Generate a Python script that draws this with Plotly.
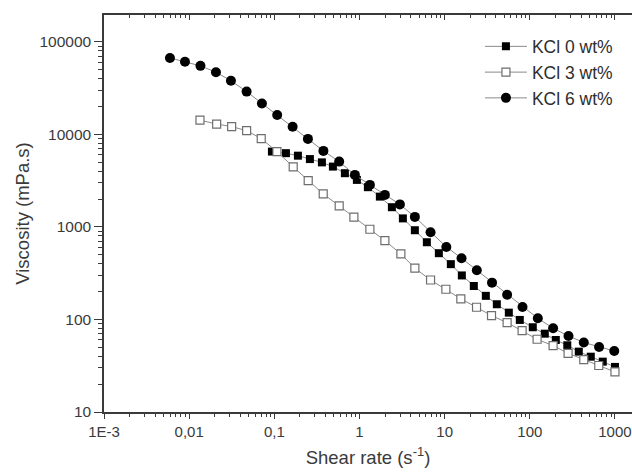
import plotly.graph_objects as go

# KCl 6 wt% (filled circles)
rate_6 = [0.00595, 0.00893, 0.01357, 0.02064, 0.03095, 0.04728, 0.07153, 0.1081, 0.164, 0.248,
          0.377, 0.5777, 0.8831, 1.325, 1.987, 2.981, 4.47, 6.831, 10.47, 15.79,
          23.87, 36.0, 54.15, 82.1, 124.2, 187.7, 284.6, 430.3, 650.8, 981.0]
visc_6 = [67000, 61000, 55000, 47000, 38000, 29000, 21600, 16200, 12100, 8940,
          6630, 5080, 3650, 2845, 2218, 1751, 1283, 876, 608, 459,
          340, 250, 185, 136.5, 103, 80.3, 66.3, 56.4, 50.4, 45.6]

# KCl 0 wt% (filled squares)
rate_0 = [0.0937, 0.1368, 0.1892, 0.2617, 0.362, 0.4873, 0.674, 0.932, 1.255, 1.735,
          2.401, 3.232, 4.47, 6.18, 8.55, 11.82, 15.92, 22.01, 30.45, 41.0,
          56.7, 76.3, 108.4, 150.0, 202.0, 275.5, 376.0, 520.0, 719.0, 1000.0]
visc_0 = [6520, 6265, 5886, 5408, 4982, 4487, 3806, 3222, 2687, 2126,
          1633, 1236, 921, 683, 520, 396, 299, 230, 180, 146,
          118.5, 98.8, 82.4, 70.2, 60.0, 52.6, 44.9, 39.6, 35.0, 30.7]

# KCl 3 wt% (open squares)
rate_3 = [0.01339, 0.02103, 0.03154, 0.04728, 0.07018, 0.1073, 0.1667, 0.25, 0.375, 0.5777,
          0.8597, 1.325, 1.987, 3.062, 4.47, 6.831, 10.33, 15.49, 23.68, 35.52,
          54.15, 81.2, 121.8, 187.7, 281.5, 430.3, 645.5, 1000.0]
visc_3 = [14240, 12930, 12140, 10965, 9005, 6518, 4453, 3158, 2274, 1687,
          1273, 944, 711, 511, 358, 267, 212, 167, 135.5, 110,
          92.4, 75.6, 61.1, 52.1, 43.1, 36.9, 31.8, 27.1]

x_ticks = [0.001, 0.01, 0.1, 1, 10, 100, 1000]
x_labels = ["1E-3", "0,01", "0,1", "1", "10", "100", "1000"]
y_ticks = [10, 100, 1000, 10000, 100000]
y_labels = ["10", "100", "1000", "10000", "100000"]

# minor tick positions (2..9 within each decade)
x_minor = [m * d for d in [0.001, 0.01, 0.1, 1, 10, 100, 1000] for m in range(2, 10)]
y_minor = [m * d for d in [10, 100, 1000, 10000, 100000] for m in range(2, 10)]

line_col = "#8a8a8a"
axis_col = "#3a3a3a"
font_fam = "Liberation Sans, Arial, sans-serif"

fig = go.Figure()
fig.add_trace(go.Scatter(x=rate_0, y=visc_0, mode="lines+markers", name="KCl 0 wt%",
                         line=dict(color=line_col, width=1),
                         marker=dict(symbol="square", size=8, color="black",
                                     line=dict(color="black", width=0))))
fig.add_trace(go.Scatter(x=rate_3, y=visc_3, mode="lines+markers", name="KCl 3 wt%",
                         line=dict(color=line_col, width=1),
                         marker=dict(symbol="square", size=8, color="white",
                                     line=dict(color="#6e6e6e", width=1.2))))
fig.add_trace(go.Scatter(x=rate_6, y=visc_6, mode="lines+markers", name="KCl 6 wt%",
                         line=dict(color=line_col, width=1),
                         marker=dict(symbol="circle", size=10, color="black",
                                     line=dict(color="black", width=0))))
# helper trace for the top (mirror) axis
fig.add_trace(go.Scatter(x=[x_ticks[0]], y=[y_ticks[0]], xaxis="x2", mode="markers",
                         marker=dict(opacity=0), showlegend=False, hoverinfo="skip"))

fig.update_layout(
    width=632, height=472,
    margin=dict(l=104, r=0, t=15, b=60),
    paper_bgcolor="white", plot_bgcolor="white",
    font=dict(family=font_fam, color=axis_col),
    showlegend=True,
    legend=dict(x=0.712, y=0.966, xanchor="left", yanchor="top",
                font=dict(size=17.5, color="#2e2e2e"), bgcolor="rgba(0,0,0,0)",
                itemwidth=42, tracegroupgap=0),
    xaxis=dict(type="log", range=[-3, 3.2], tickvals=x_ticks, ticktext=x_labels,
               ticks="outside", ticklen=5, tickwidth=1.2, tickcolor=axis_col,
               showline=True, linecolor=axis_col, linewidth=1.5,
               showgrid=False, zeroline=False, ticklabeloverflow="allow",
               minor=dict(tickmode="array", tickvals=x_minor, ticks="outside", ticklen=3,
                          tickcolor=axis_col, showgrid=False),
               tickfont=dict(size=15),
               title=dict(text="Shear rate (s<sup>-1</sup>)", font=dict(size=18.5), standoff=12)),
    xaxis2=dict(type="log", range=[-3, 3.2], overlaying="x", side="top",
                tickvals=x_ticks, showticklabels=False,
                ticks="inside", ticklen=5, tickwidth=1.2, tickcolor=axis_col,
                showline=True, linecolor=axis_col, linewidth=1.5,
                showgrid=False, zeroline=False,
                minor=dict(tickmode="array", tickvals=x_minor, ticks="inside", ticklen=3,
                           tickcolor=axis_col, showgrid=False)),
    yaxis=dict(type="log", range=[1, 5.29], tickvals=y_ticks, ticktext=y_labels,
               ticks="outside", ticklen=8, tickwidth=1.2, tickcolor=axis_col,
               showline=True, linecolor=axis_col, linewidth=1.5,
               showgrid=False, zeroline=False,
               minor=dict(tickmode="array", tickvals=y_minor, ticks="outside", ticklen=4,
                          tickcolor=axis_col, showgrid=False),
               tickfont=dict(size=15.5),
               title=dict(text="Viscosity (mPa.s)", font=dict(size=18.5), standoff=5)),
)

fig.write_html("out.html")
